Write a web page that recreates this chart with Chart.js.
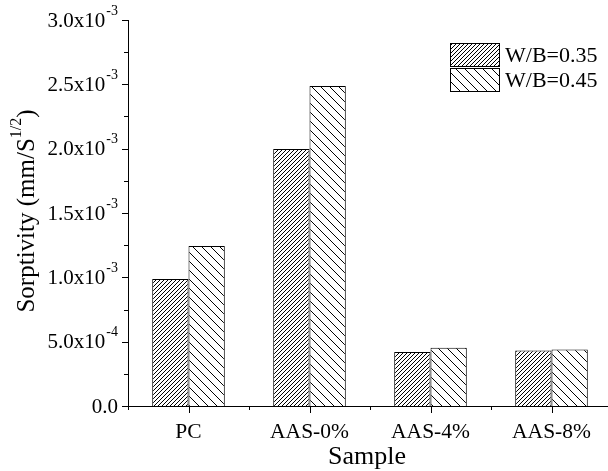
<!DOCTYPE html>
<html>
<head>
<meta charset="utf-8">
<script src="https://cdn.jsdelivr.net/npm/chart.js@4.4.0/dist/chart.umd.min.js"></script>
<style>
    html, body { margin: 0; padding: 0; background: #fff; overflow: hidden; }
    #wrap { width: 612px; height: 471px; }
</style>
</head>
<body>
<div id="wrap"><canvas id="sorptivity"></canvas></div>
<script>
const categories = ['PC', 'AAS-0%', 'AAS-4%', 'AAS-8%'];
const seriesLabels = ['W/B=0.35', 'W/B=0.45'];
const wb035 = [0.987e-3, 1.997e-3, 0.42e-3, 0.432e-3];
const wb045 = [1.243e-3, 2.487e-3, 0.453e-3, 0.44e-3];
const yTickValues = [0, 0.5e-3, 1.0e-3, 1.5e-3, 2.0e-3, 2.5e-3, 3.0e-3];
const yTickLabels = [['0.0', ''], ['5.0x10', '-4'], ['1.0x10', '-3'], ['1.5x10', '-3'],
                     ['2.0x10', '-3'], ['2.5x10', '-3'], ['3.0x10', '-3']];
const xTitle = 'Sample';
const yTitle = ['Sorptivity (mm/S', '1/2', ')'];

const FONT = '"Liberation Serif", "Times New Roman", serif';

const canvas = document.getElementById('sorptivity');
const ctx = canvas.getContext('2d');

// diagonal hatch tiles
function hatch(size, forward) {
    const c = document.createElement('canvas');
    c.width = size;
    c.height = size;
    const g = c.getContext('2d');
    g.fillStyle = '#fff';
    g.fillRect(0, 0, size, size);
    g.strokeStyle = '#000';
    g.lineWidth = 1;
    g.beginPath();
    for (let k = -1; k <= 1; k++) {
        if (forward) {
            g.moveTo(k * size, size);
            g.lineTo(k * size + size, 0);
        } else {
            g.moveTo(k * size, 0);
            g.lineTo(k * size + size, size);
        }
    }
    g.stroke();
    return ctx.createPattern(c, 'repeat');
}

const fills = [hatch(4, true), hatch(9, false)];

// draws axes, ticks, labels and legend by hand (for superscripts)
const decor = {
    id: 'decor',
    afterDraw(chart) {
        const g = chart.ctx;
        const x = chart.scales.x;
        const y = chart.scales.y;
        const area = chart.chartArea;
        g.save();
        g.strokeStyle = '#000';
        g.fillStyle = '#000';
        g.lineWidth = 1;

        // axis lines
        g.beginPath();
        g.moveTo(area.left + 0.5, y.getPixelForValue(3.0e-3));
        g.lineTo(area.left + 0.5, area.bottom + 0.5);
        g.lineTo(area.right, area.bottom + 0.5);
        g.stroke();

        // y ticks, major + minor
        g.beginPath();
        for (let v = 0; v <= 12; v++) {
            const py = Math.round(y.getPixelForValue(v * 0.25e-3)) + 0.5;
            const len = v % 2 === 0 ? 6 : 4;
            g.moveTo(area.left, py);
            g.lineTo(area.left - len, py);
        }
        // x ticks, major at categories, minor between
        categories.forEach((c, i) => {
            const px = Math.round(x.getPixelForValue(i)) + 0.5;
            g.moveTo(px, area.bottom);
            g.lineTo(px, area.bottom + 7);
        });
        for (let i = 0; i <= categories.length; i++) {
            const px = Math.round((x.getPixelForValue(i - 1) + x.getPixelForValue(i)) / 2) + 0.5;
            g.moveTo(px, area.bottom);
            g.lineTo(px, area.bottom + 4);
        }
        g.stroke();

        // y tick labels
        g.textBaseline = 'middle';
        yTickValues.forEach((v, i) => {
            const py = y.getPixelForValue(v);
            const [base, sup] = yTickLabels[i];
            const right = area.left - 10;
            g.font = '14px ' + FONT;
            const sw = sup ? g.measureText(sup).width : 0;
            g.textAlign = 'right';
            if (sup) g.fillText(sup, right, py - 9);
            g.font = '21px ' + FONT;
            g.fillText(base, right - sw - (sup ? 1 : 0), py + 1);
        });

        // x tick labels
        g.textAlign = 'center';
        g.font = '21.5px ' + FONT;
        categories.forEach((c, i) => {
            g.fillText(c, x.getPixelForValue(i), 432);
        });

        // x title
        g.font = '26px ' + FONT;
        g.fillText(xTitle, 367, 457);

        // y title, rotated, with superscript
        g.translate(27, 211);
        g.rotate(-Math.PI / 2);
        g.font = '25px ' + FONT;
        const w1 = g.measureText(yTitle[0]).width;
        const w3 = g.measureText(yTitle[2]).width;
        g.font = '16px ' + FONT;
        const w2 = g.measureText(yTitle[1]).width;
        const sx = -(w1 + w2 + w3) / 2;
        g.textAlign = 'left';
        g.font = '25px ' + FONT;
        g.fillText(yTitle[0], sx, 0);
        g.font = '16px ' + FONT;
        g.fillText(yTitle[1], sx + w1, -10);
        g.font = '25px ' + FONT;
        g.fillText(yTitle[2], sx + w1 + w2, 0);
        g.setTransform(1, 0, 0, 1, 0, 0);

        // legend
        seriesLabels.forEach((label, i) => {
            const top = 43 + i * 25;
            g.fillStyle = fills[i];
            g.fillRect(451, top, 49, 23);
            g.strokeStyle = '#000';
            g.strokeRect(450.5, top + 0.5, 49, 23);
            g.fillStyle = '#000';
            g.font = '22px ' + FONT;
            g.textAlign = 'left';
            g.fillText(label, 505, top + 13);
        });
        g.restore();
    }
};

new Chart(canvas, {
    type: 'bar',
    data: {
        labels: categories,
        datasets: [{
            label: seriesLabels[0],
            data: wb035,
            backgroundColor: fills[0],
            borderColor: '#000',
            borderWidth: 1,
            borderSkipped: 'bottom'
        }, {
            label: seriesLabels[1],
            data: wb045,
            backgroundColor: fills[1],
            borderColor: '#000',
            borderWidth: 1,
            borderSkipped: 'bottom'
        }]
    },
    options: {
        responsive: true,
        maintainAspectRatio: false,
        animation: false,
        layout: {
            padding: { top: 20, right: 0, left: 0, bottom: 0 }
        },
        plugins: {
            legend: { display: false },
            tooltip: { enabled: false }
        },
        datasets: {
            bar: { categoryPercentage: 0.6, barPercentage: 1.0 }
        },
        scales: {
            x: {
                offset: true,
                grid: { display: false },
                border: { display: false },
                ticks: { display: false },
                afterFit(scale) { scale.height = 65; }
            },
            y: {
                min: 0,
                max: 3.0e-3,
                grid: { display: false },
                border: { display: false },
                ticks: { display: false, stepSize: 0.5e-3 },
                afterFit(scale) { scale.width = 128; }
            }
        }
    },
    plugins: [decor]
});
</script>
</body>
</html>
